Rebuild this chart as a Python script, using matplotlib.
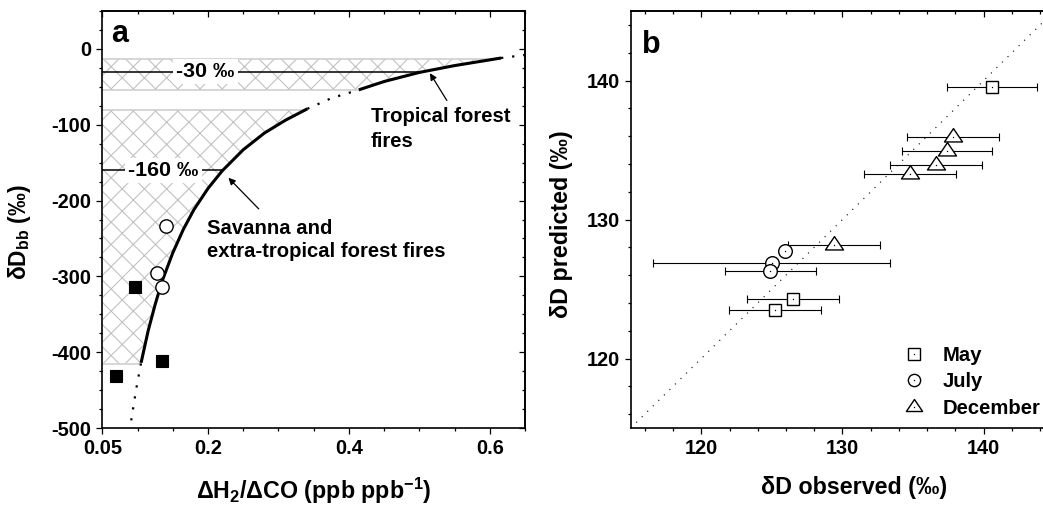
import numpy as np
import matplotlib
matplotlib.use("Agg")
import matplotlib.pyplot as plt
from matplotlib.lines import Line2D
from matplotlib.path import Path
from matplotlib.legend_handler import HandlerTuple

plt.rcParams["font.family"] = ["Liberation Sans", "DejaVu Sans"]
plt.rcParams["font.weight"] = "bold"
plt.rcParams["axes.labelweight"] = "bold"
plt.rcParams["axes.unicode_minus"] = False
plt.rcParams["mathtext.fontset"] = "custom"
plt.rcParams["mathtext.bf"] = "Liberation Sans:bold"
plt.rcParams["mathtext.rm"] = "Liberation Sans:bold"
plt.rcParams["hatch.linewidth"] = 0.4

# ---- panel a data ----
# mixing curve (dotted / solid / dotted / solid / dotted pieces)
dot1_x = [0.091, 0.098, 0.105]
dot1_y = [-490, -449, -414]
solid1_x = [0.105, 0.115, 0.125, 0.135, 0.15, 0.165, 0.18, 0.2, 0.22, 0.25, 0.28, 0.31, 0.341]
solid1_y = [-414, -372, -337, -306, -269, -238, -212, -184, -161, -133, -111, -94, -79]
dot2_x = [0.341, 0.375, 0.414]
dot2_y = [-79, -65, -54]
solid2_x = [0.414, 0.45, 0.5, 0.55, 0.616]
solid2_y = [-54, -43, -31, -22, -12]
dot3_x = [0.616, 0.65]
dot3_y = [-12, -8]

# hatched source ranges
band_top = [-13, -80]
band_bottom = [-54, -415]
ref_levels = [-30, -160]
ref_text_x = [0.196, 0.137]

# observations
sq_x = [0.097, 0.135, 0.070]
sq_y = [-314, -411, -432]
circ_x = [0.128, 0.135, 0.140]
circ_y = [-295, -314, -234]

# ---- panel b data ----
may_x = [140.6, 126.5, 125.2]
may_y = [139.5, 124.3, 123.5]
may_err = [3.2, 3.25, 3.25]
july_x = [125.0, 124.9, 125.9]
july_y = [126.9, 126.3, 127.7]
july_err = [8.4, 3.2, np.nan]
dec_x = [137.8, 137.4, 136.6, 134.8, 129.4]
dec_y = [135.9, 134.9, 133.9, 133.3, 128.2]
dec_err = [3.26, 3.2, 3.25, 3.25, 3.25]
one_to_one = [115, 145]

# flat triangle centred on its centroid (Origin style)
tri = Path([(0, 0.493), (-0.5, -0.247), (0.5, -0.247), (0, 0.493)],
           [Path.MOVETO, Path.LINETO, Path.LINETO, Path.CLOSEPOLY])


def style_ticks(ax, xmaj, xmin, ymaj, ymin, right=True):
    ax.set_xticks(xmaj)
    ax.set_xticks(xmin, minor=True)
    ax.set_yticks(ymaj)
    ax.set_yticks(ymin, minor=True)
    ax.tick_params(which="major", direction="out", length=2.2, width=0.45, labelsize=7.2, pad=1.8)
    ax.tick_params(which="minor", direction="out", length=1.1, width=0.45)
    for s in ax.spines.values():
        s.set_linewidth(0.6)
    top = ax.secondary_xaxis("top")
    top.set_xticks(xmaj)
    top.set_xticks(xmin, minor=True)
    top.tick_params(which="major", direction="in", length=2.2, width=0.45, labeltop=False)
    top.tick_params(which="minor", direction="in", length=1.1, width=0.45)
    top.spines["top"].set_linewidth(0.6)
    if right:
        rt = ax.secondary_yaxis("right")
        rt.set_yticks(ymaj)
        rt.set_yticks(ymin, minor=True)
        rt.tick_params(which="major", direction="in", length=2.2, width=0.45, labelright=False)
        rt.tick_params(which="minor", direction="in", length=1.1, width=0.45)
        rt.spines["right"].set_linewidth(0.6)


fig = plt.figure(figsize=(5.215, 2.535), dpi=200)

# ================= panel a =================
ax1 = fig.add_axes([0.0981, 0.1558, 0.4053, 0.8225])
ax1.set_xlim(0.05, 0.65)
ax1.set_ylim(-500, 50)

cx = np.array(dot1_x + solid1_x[1:] + dot2_x[1:] + solid2_x[1:] + dot3_x[1:])
cy = np.array(dot1_y + solid1_y[1:] + dot2_y[1:] + solid2_y[1:] + dot3_y[1:])

for top, bot in zip(band_top, band_bottom):
    inner = cy[(cy > bot) & (cy < top)]
    ys = np.concatenate([[bot], inner, [top]])
    xs = np.interp(ys, cy, cx)
    ax1.fill_betweenx(ys, 0.05, xs, facecolor="white", edgecolor="#c2c2c2",
                      hatch="xxx", linewidth=0, zorder=1)
    for yy in (top, bot):
        ax1.plot([0.05, np.interp(yy, cy, cx)], [yy, yy], color="#cfcfcf", lw=0.6, zorder=2)

for lev, tx in zip(ref_levels, ref_text_x):
    ax1.plot([0.05, np.interp(lev, cy, cx)], [lev, lev], color="black", lw=0.55, zorder=3)
    ax1.text(tx, lev, f"{lev} ‰", ha="center", va="center", fontsize=7.7,
             bbox=dict(boxstyle="square,pad=0.15", fc="white", ec="none"), zorder=4)

for xs, ys in [(solid1_x, solid1_y), (solid2_x, solid2_y)]:
    ax1.plot(xs, ys, color="black", lw=1.1, solid_capstyle="butt", zorder=5)
for xs, ys in [(dot1_x, dot1_y), (dot2_x, dot2_y), (dot3_x, dot3_y)]:
    ax1.plot(xs, ys, color="black", lw=0.8, ls=(0, (1, 4)), zorder=5)

ax1.plot(sq_x, sq_y, "s", ms=4.5, mfc="black", mec="black", mew=0.4, zorder=6)
ax1.plot(circ_x, circ_y, "o", ms=4.8, mfc="white", mec="black", mew=0.5, zorder=6)

arrow = dict(arrowstyle="-|>", lw=0.45, color="black", mutation_scale=5, shrinkA=0, shrinkB=0)
ax1.annotate("", xy=(0.515, -32), xytext=(0.539, -68), arrowprops=arrow, zorder=7)
ax1.annotate("", xy=(0.229, -170), xytext=(0.272, -211), arrowprops=arrow, zorder=7)
ax1.text(0.431, -76, "Tropical forest\nfires", ha="left", va="top", fontsize=7.3, linespacing=1.45)
ax1.text(0.198, -224, "Savanna and\nextra-tropical forest fires", ha="left", va="top",
         fontsize=7.3, linespacing=1.3)

ax1.text(0.021, 0.926, "a", transform=ax1.transAxes, fontsize=11, va="baseline", ha="left")

style_ticks(ax1, [0.05, 0.2, 0.4, 0.6], np.arange(0.05, 0.651, 0.05),
            [0, -100, -200, -300, -400, -500], np.arange(-500, 51, 25))
ax1.set_xticklabels(["0.05", "0.2", "0.4", "0.6"])
ax1.set_xlabel(r"ΔH$_{\mathbf{2}}$/ΔCO (ppb ppb$^{\mathbf{-1}}$)", fontsize=8.4)
ax1.set_ylabel(r"δD$_{\mathbf{bb}}$ (‰)", fontsize=8.2)
ax1.xaxis.set_label_coords(0.5, -0.115)
ax1.yaxis.set_label_coords(-0.165, 0.47)

# ================= panel b =================
ax2 = fig.add_axes([0.6047, 0.1558, 0.4061, 0.8225])
ax2.set_xlim(115, 145)
ax2.set_ylim(115, 145)
ax2.plot(one_to_one, one_to_one, color="black", lw=0.4, ls=(0, (1, 6)), zorder=1)

groups = [
    (may_x, may_y, may_err, "s", 4.6, "May"),
    (july_x, july_y, july_err, "o", 4.9, "July"),
    (dec_x, dec_y, dec_err, tri, 6.5, "December"),
]
handles = []
for xs, ys, errs, mk, ms, lab in groups:
    ax2.errorbar(xs, ys, xerr=errs, fmt="none", ecolor="black", elinewidth=0.4,
                 capsize=1.3, capthick=0.4, zorder=2)
    ax2.plot(xs, ys, ls="none", marker=mk, ms=ms, mfc="white", mec="black", mew=0.5, zorder=3)
    ax2.plot(xs, ys, ls="none", marker="o", ms=0.5, color="black", mew=0, zorder=4)
    h1 = Line2D([], [], ls="none", marker=mk, ms=ms * 0.9, mfc="white", mec="black", mew=0.5)
    h2 = Line2D([], [], ls="none", marker="o", ms=0.5, color="black", mew=0)
    handles.append((h1, h2))

ax2.legend(handles, [g[5] for g in groups], handler_map={tuple: HandlerTuple(ndivide=1)},
           loc="upper left", bbox_to_anchor=(0.867, 0.318), bbox_transform=fig.transFigure,
           frameon=False, fontsize=7.3, handlelength=1.0, handletextpad=0.9,
           labelspacing=0.38, borderpad=0, borderaxespad=0)

ax2.text(0.026, 0.899, "b", transform=ax2.transAxes, fontsize=11, va="baseline", ha="left")

style_ticks(ax2, [120, 130, 140], np.arange(116, 145, 2), [120, 130, 140],
            np.arange(116, 145, 2), right=False)
ax2.set_xlabel("δD observed (‰)", fontsize=8.4)
ax2.set_ylabel("δD predicted (‰)", fontsize=8.4)
ax2.xaxis.set_label_coords(0.527, -0.115)
ax2.yaxis.set_label_coords(-0.136, 0.489)

fig.savefig("out.png", dpi=200)
